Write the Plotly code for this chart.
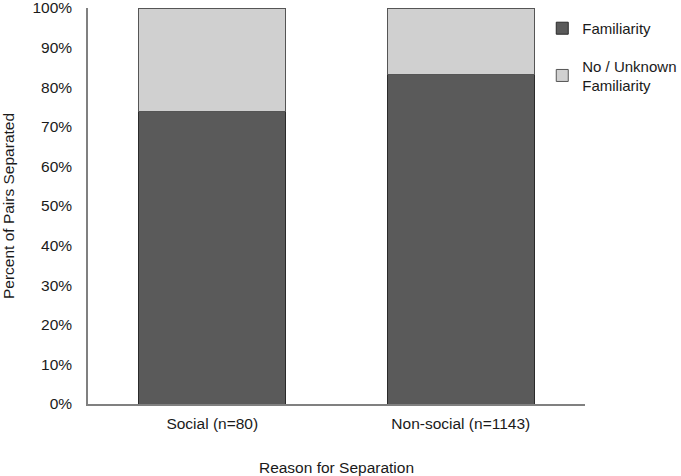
import plotly.graph_objects as go

categories = ["Social (n=80)", "Non-social (n=1143)"]
familiarity = [73.75, 83.3]
no_unknown = [26.25, 16.7]
series_names = ["Familiarity", "No / Unknown<br>Familiarity"]
tick_vals = [0, 10, 20, 30, 40, 50, 60, 70, 80, 90, 100]
tick_text = [f"{v}%" for v in tick_vals]

font_family = "Liberation Sans, Arial, sans-serif"
fs = 15.5

fig = go.Figure()
fig.add_trace(go.Bar(x=categories, y=familiarity, name=series_names[0], legendgroup="a",
                     marker=dict(color="#5a5a5a", line=dict(color="#2a2a2a", width=1))))
fig.add_trace(go.Bar(x=categories, y=no_unknown, name=series_names[1], legendgroup="b",
                     marker=dict(color="#d0d0d0", line=dict(color="#555555", width=1))))

fig.update_layout(
    barmode="stack",
    bargap=0.41,
    width=681, height=476,
    margin=dict(l=88, r=96, t=8, b=72, autoexpand=False),
    paper_bgcolor="white", plot_bgcolor="white",
    font=dict(family=font_family, size=fs, color="#1a1a1a"),
    legend=dict(x=0.914, y=0.99, xanchor="left", yanchor="top",
                font=dict(size=15), traceorder="grouped",
                tracegroupgap=15, itemwidth=30, bgcolor="rgba(0,0,0,0)"),
    xaxis=dict(showline=True, linecolor="#808080", linewidth=1.5,
               ticks="", showgrid=False, automargin=False,
               ticklabelstandoff=5, ticklabeloverflow="allow",
               title=dict(text="Reason for Separation", standoff=31,
                          font=dict(size=fs))),
    yaxis=dict(range=[0, 100], tickvals=tick_vals, ticktext=tick_text,
               showline=True, linecolor="#808080", linewidth=1.5,
               ticks="", showgrid=False, ticklabelstandoff=11, automargin=False,
               ticklabeloverflow="allow",
               title=dict(text="Percent of Pairs Separated", standoff=17,
                          font=dict(size=fs))),
    showlegend=True,
)

fig.write_html("out.html", config={"displayModeBar": False},
               post_script="document.body.style.margin='0';")
